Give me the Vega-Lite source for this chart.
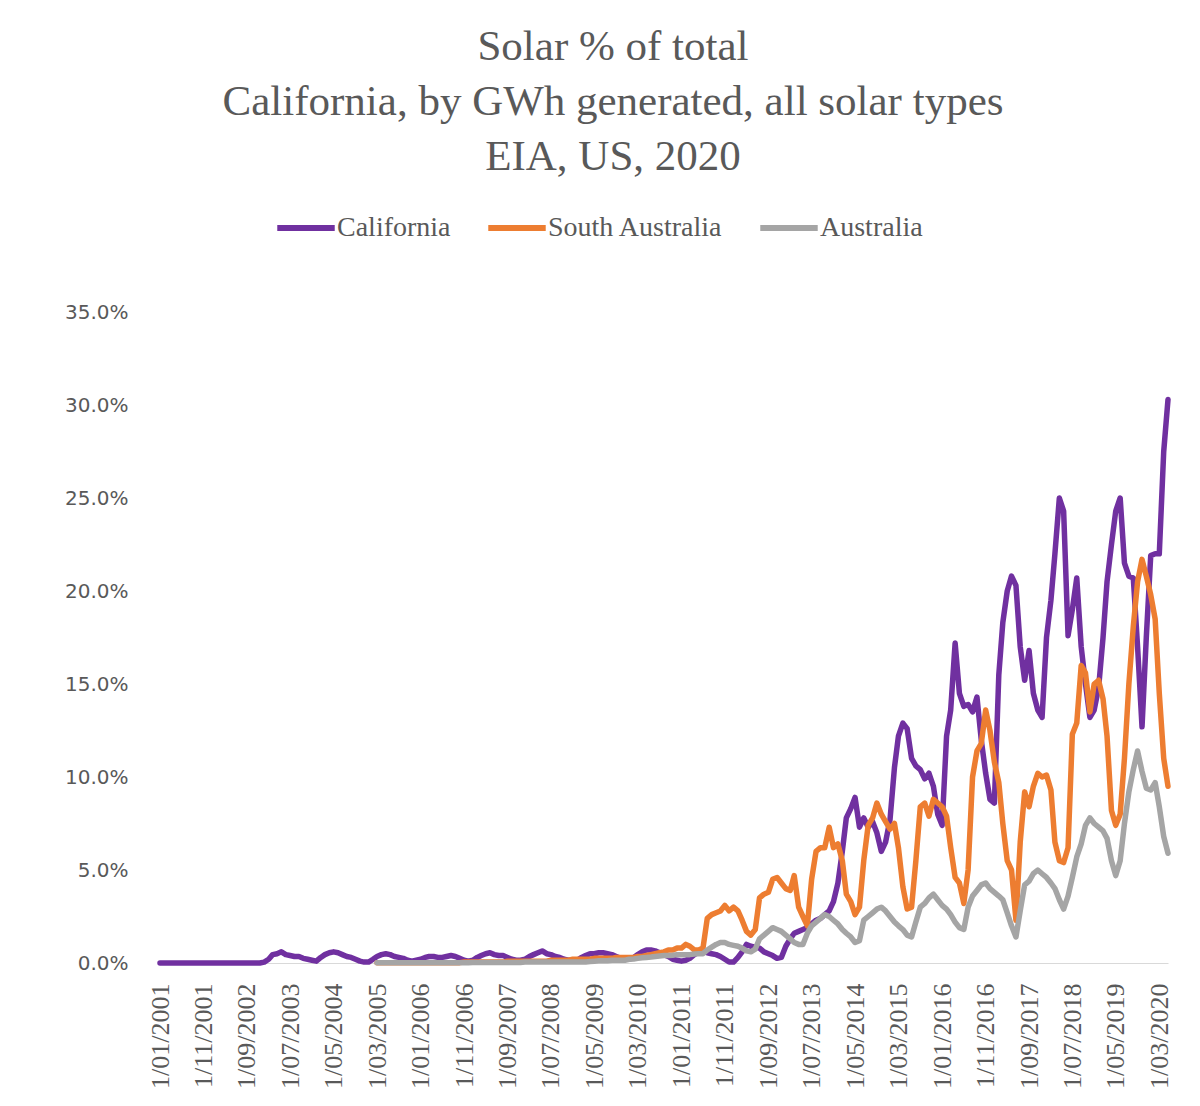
{
"$schema": "https://vega.github.io/schema/vega-lite/v6.json",
"autosize": {"type": "none"},
"width": 1008,
"height": 651,
"padding": {"left": 160, "top": 312, "right": 32, "bottom": 143},
"background": "white",
"title": {"text": ["Solar % of total", "California, by GWh generated, all solar types", "EIA, US, 2020"], "font": "Liberation Serif", "fontSize": 43, "fontWeight": "normal", "color": "#595959", "lineHeight": 55, "anchor": "middle", "dx": -51, "offset": 17},
"data": {"values": [
{"d":"2001-01-01","California":0},{"d":"2001-02-01","California":0},{"d":"2001-03-01","California":0},{"d":"2001-04-01","California":0},{"d":"2001-05-01","California":0},{"d":"2001-06-01","California":0},{"d":"2001-07-01","California":0},{"d":"2001-08-01","California":0},{"d":"2001-09-01","California":0},{"d":"2001-10-01","California":0},{"d":"2001-11-01","California":0},{"d":"2001-12-01","California":0},
{"d":"2002-01-01","California":0},{"d":"2002-02-01","California":0},{"d":"2002-03-01","California":0},{"d":"2002-04-01","California":0},{"d":"2002-05-01","California":0},{"d":"2002-06-01","California":0},{"d":"2002-07-01","California":0},{"d":"2002-08-01","California":0},{"d":"2002-09-01","California":0},{"d":"2002-10-01","California":0},{"d":"2002-11-01","California":0},{"d":"2002-12-01","California":0},
{"d":"2003-01-01","California":0.05},{"d":"2003-02-01","California":0.2},{"d":"2003-03-01","California":0.45},{"d":"2003-04-01","California":0.5},{"d":"2003-05-01","California":0.6},{"d":"2003-06-01","California":0.45},{"d":"2003-07-01","California":0.4},{"d":"2003-08-01","California":0.35},{"d":"2003-09-01","California":0.35},{"d":"2003-10-01","California":0.25},{"d":"2003-11-01","California":0.2},{"d":"2003-12-01","California":0.15},
{"d":"2004-01-01","California":0.1},{"d":"2004-02-01","California":0.3},{"d":"2004-03-01","California":0.45},{"d":"2004-04-01","California":0.55},{"d":"2004-05-01","California":0.6},{"d":"2004-06-01","California":0.55},{"d":"2004-07-01","California":0.45},{"d":"2004-08-01","California":0.35},{"d":"2004-09-01","California":0.3},{"d":"2004-10-01","California":0.2},{"d":"2004-11-01","California":0.1},{"d":"2004-12-01","California":0.05},
{"d":"2005-01-01","California":0.05},{"d":"2005-02-01","California":0.2},{"d":"2005-03-01","California":0.35,"South Australia":0.02,"Australia":0.02},{"d":"2005-04-01","California":0.45,"South Australia":0.02,"Australia":0.02},{"d":"2005-05-01","California":0.5,"South Australia":0.02,"Australia":0.02},{"d":"2005-06-01","California":0.45,"South Australia":0.02,"Australia":0.02},{"d":"2005-07-01","California":0.35,"South Australia":0.02,"Australia":0.02},{"d":"2005-08-01","California":0.3,"South Australia":0.02,"Australia":0.02},{"d":"2005-09-01","California":0.25,"South Australia":0.02,"Australia":0.02},{"d":"2005-10-01","California":0.15,"South Australia":0.02,"Australia":0.02},{"d":"2005-11-01","California":0.1,"South Australia":0.02,"Australia":0.02},{"d":"2005-12-01","California":0.15,"South Australia":0.02,"Australia":0.02},
{"d":"2006-01-01","California":0.2,"South Australia":0.02,"Australia":0.02},{"d":"2006-02-01","California":0.3,"South Australia":0.02,"Australia":0.02},{"d":"2006-03-01","California":0.35,"South Australia":0.02,"Australia":0.02},{"d":"2006-04-01","California":0.35,"South Australia":0.02,"Australia":0.02},{"d":"2006-05-01","California":0.3,"South Australia":0.02,"Australia":0.02},{"d":"2006-06-01","California":0.3,"South Australia":0.02,"Australia":0.02},{"d":"2006-07-01","California":0.35,"South Australia":0.02,"Australia":0.02},{"d":"2006-08-01","California":0.4,"South Australia":0.02,"Australia":0.02},{"d":"2006-09-01","California":0.35,"South Australia":0.02,"Australia":0.02},{"d":"2006-10-01","California":0.25,"South Australia":0.02,"Australia":0.02},{"d":"2006-11-01","California":0.15,"South Australia":0.05,"Australia":0.02},{"d":"2006-12-01","California":0.1,"South Australia":0.05,"Australia":0.02},
{"d":"2007-01-01","California":0.15,"South Australia":0.05,"Australia":0.03},{"d":"2007-02-01","California":0.3,"South Australia":0.05,"Australia":0.03},{"d":"2007-03-01","California":0.4,"South Australia":0.05,"Australia":0.03},{"d":"2007-04-01","California":0.5,"South Australia":0.05,"Australia":0.03},{"d":"2007-05-01","California":0.55,"South Australia":0.05,"Australia":0.03},{"d":"2007-06-01","California":0.45,"South Australia":0.05,"Australia":0.03},{"d":"2007-07-01","California":0.4,"South Australia":0.05,"Australia":0.03},{"d":"2007-08-01","California":0.4,"South Australia":0.05,"Australia":0.03},{"d":"2007-09-01","California":0.3,"South Australia":0.1,"Australia":0.03},{"d":"2007-10-01","California":0.2,"South Australia":0.1,"Australia":0.03},{"d":"2007-11-01","California":0.15,"South Australia":0.1,"Australia":0.03},{"d":"2007-12-01","California":0.15,"South Australia":0.1,"Australia":0.03},
{"d":"2008-01-01","California":0.2,"South Australia":0.1,"Australia":0.05},{"d":"2008-02-01","California":0.35,"South Australia":0.1,"Australia":0.05},{"d":"2008-03-01","California":0.45,"South Australia":0.1,"Australia":0.05},{"d":"2008-04-01","California":0.55,"South Australia":0.1,"Australia":0.05},{"d":"2008-05-01","California":0.65,"South Australia":0.1,"Australia":0.05},{"d":"2008-06-01","California":0.5,"South Australia":0.1,"Australia":0.05},{"d":"2008-07-01","California":0.45,"South Australia":0.15,"Australia":0.05},{"d":"2008-08-01","California":0.35,"South Australia":0.15,"Australia":0.05},{"d":"2008-09-01","California":0.3,"South Australia":0.15,"Australia":0.05},{"d":"2008-10-01","California":0.2,"South Australia":0.15,"Australia":0.05},{"d":"2008-11-01","California":0.15,"South Australia":0.15,"Australia":0.05},{"d":"2008-12-01","California":0.15,"South Australia":0.2,"Australia":0.05},
{"d":"2009-01-01","California":0.15,"South Australia":0.2,"Australia":0.05},{"d":"2009-02-01","California":0.3,"South Australia":0.2,"Australia":0.05},{"d":"2009-03-01","California":0.4,"South Australia":0.2,"Australia":0.05},{"d":"2009-04-01","California":0.5,"South Australia":0.2,"Australia":0.08},{"d":"2009-05-01","California":0.5,"South Australia":0.25,"Australia":0.1},{"d":"2009-06-01","California":0.55,"South Australia":0.25,"Australia":0.12},{"d":"2009-07-01","California":0.55,"South Australia":0.25,"Australia":0.12},{"d":"2009-08-01","California":0.5,"South Australia":0.25,"Australia":0.12},{"d":"2009-09-01","California":0.45,"South Australia":0.25,"Australia":0.15},{"d":"2009-10-01","California":0.35,"South Australia":0.3,"Australia":0.15},{"d":"2009-11-01","California":0.25,"South Australia":0.3,"Australia":0.15},{"d":"2009-12-01","California":0.2,"South Australia":0.3,"Australia":0.15},
{"d":"2010-01-01","California":0.2,"South Australia":0.3,"Australia":0.2},{"d":"2010-02-01","California":0.3,"South Australia":0.3,"Australia":0.22},{"d":"2010-03-01","California":0.45,"South Australia":0.35,"Australia":0.25},{"d":"2010-04-01","California":0.6,"South Australia":0.35,"Australia":0.28},{"d":"2010-05-01","California":0.7,"South Australia":0.4,"Australia":0.3},{"d":"2010-06-01","California":0.7,"South Australia":0.45,"Australia":0.32},{"d":"2010-07-01","California":0.65,"South Australia":0.5,"Australia":0.35},{"d":"2010-08-01","California":0.55,"South Australia":0.55,"Australia":0.38},{"d":"2010-09-01","California":0.45,"South Australia":0.6,"Australia":0.4},{"d":"2010-10-01","California":0.35,"South Australia":0.7,"Australia":0.4},{"d":"2010-11-01","California":0.2,"South Australia":0.7,"Australia":0.42},{"d":"2010-12-01","California":0.15,"South Australia":0.8,"Australia":0.45},
{"d":"2011-01-01","California":0.1,"South Australia":0.8,"Australia":0.45},{"d":"2011-02-01","California":0.15,"South Australia":1.0,"Australia":0.45},{"d":"2011-03-01","California":0.25,"South Australia":0.9,"Australia":0.45},{"d":"2011-04-01","California":0.45,"South Australia":0.7,"Australia":0.48},{"d":"2011-05-01","California":0.6,"South Australia":0.7,"Australia":0.5},{"d":"2011-06-01","California":0.65,"South Australia":0.8,"Australia":0.5},{"d":"2011-07-01","California":0.55,"South Australia":2.4,"Australia":0.7},{"d":"2011-08-01","California":0.5,"South Australia":2.6,"Australia":0.85},{"d":"2011-09-01","California":0.45,"South Australia":2.7,"Australia":1.0},{"d":"2011-10-01","California":0.35,"South Australia":2.8,"Australia":1.1},{"d":"2011-11-01","California":0.2,"South Australia":3.1,"Australia":1.1},{"d":"2011-12-01","California":0.05,"South Australia":2.8,"Australia":1.0},
{"d":"2012-01-01","California":0.05,"South Australia":3.0,"Australia":0.95},{"d":"2012-02-01","California":0.3,"South Australia":2.8,"Australia":0.9},{"d":"2012-03-01","California":0.6,"South Australia":2.3,"Australia":0.8},{"d":"2012-04-01","California":1.0,"South Australia":1.7,"Australia":0.65},{"d":"2012-05-01","California":0.9,"South Australia":1.5,"Australia":0.6},{"d":"2012-06-01","California":0.85,"South Australia":1.8,"Australia":0.75},{"d":"2012-07-01","California":0.8,"South Australia":3.5,"Australia":1.3},{"d":"2012-08-01","California":0.6,"South Australia":3.7,"Australia":1.5},{"d":"2012-09-01","California":0.5,"South Australia":3.8,"Australia":1.7},{"d":"2012-10-01","California":0.4,"South Australia":4.5,"Australia":1.9},{"d":"2012-11-01","California":0.25,"South Australia":4.6,"Australia":1.8},{"d":"2012-12-01","California":0.3,"South Australia":4.3,"Australia":1.7},
{"d":"2013-01-01","California":0.9,"South Australia":4.0,"Australia":1.5},{"d":"2013-02-01","California":1.3,"South Australia":3.9,"Australia":1.3},{"d":"2013-03-01","California":1.6,"South Australia":4.7,"Australia":1.1},{"d":"2013-04-01","California":1.7,"South Australia":3.0,"Australia":1.0},{"d":"2013-05-01","California":1.8,"South Australia":2.5,"Australia":1.0},{"d":"2013-06-01","California":1.9,"South Australia":2.0,"Australia":1.6},{"d":"2013-07-01","California":2.1,"South Australia":4.5,"Australia":2.0},{"d":"2013-08-01","California":2.3,"South Australia":6.0,"Australia":2.2},{"d":"2013-09-01","California":2.4,"South Australia":6.2,"Australia":2.4},{"d":"2013-10-01","California":2.6,"South Australia":6.2,"Australia":2.6},{"d":"2013-11-01","California":2.8,"South Australia":7.3,"Australia":2.5},{"d":"2013-12-01","California":3.3,"South Australia":6.2,"Australia":2.3},
{"d":"2014-01-01","California":4.3,"South Australia":6.4,"Australia":2.1},{"d":"2014-02-01","California":6.0,"South Australia":5.5,"Australia":1.8},{"d":"2014-03-01","California":7.8,"South Australia":3.7,"Australia":1.6},{"d":"2014-04-01","California":8.3,"South Australia":3.3,"Australia":1.4},{"d":"2014-05-01","California":8.9,"South Australia":2.6,"Australia":1.1},{"d":"2014-06-01","California":7.3,"South Australia":3.0,"Australia":1.2},{"d":"2014-07-01","California":7.8,"South Australia":5.5,"Australia":2.3},{"d":"2014-08-01","California":7.3,"South Australia":7.4,"Australia":2.5},{"d":"2014-09-01","California":7.6,"South Australia":7.8,"Australia":2.7},{"d":"2014-10-01","California":7.0,"South Australia":8.6,"Australia":2.9},{"d":"2014-11-01","California":6.0,"South Australia":8.0,"Australia":3.0},{"d":"2014-12-01","California":6.5,"South Australia":7.6,"Australia":2.8},
{"d":"2015-01-01","California":7.7,"South Australia":7.2,"Australia":2.5},{"d":"2015-02-01","California":10.5,"South Australia":7.5,"Australia":2.2},{"d":"2015-03-01","California":12.2,"South Australia":6.2,"Australia":2.0},{"d":"2015-04-01","California":12.9,"South Australia":4.1,"Australia":1.8},{"d":"2015-05-01","California":12.6,"South Australia":2.9,"Australia":1.5},{"d":"2015-06-01","California":11.0,"South Australia":3.0,"Australia":1.4},{"d":"2015-07-01","California":10.6,"South Australia":5.5,"Australia":2.2},{"d":"2015-08-01","California":10.4,"South Australia":8.4,"Australia":3.0},{"d":"2015-09-01","California":9.9,"South Australia":8.6,"Australia":3.2},{"d":"2015-10-01","California":10.2,"South Australia":7.9,"Australia":3.5},{"d":"2015-11-01","California":9.5,"South Australia":8.8,"Australia":3.7},{"d":"2015-12-01","California":8.0,"South Australia":8.6,"Australia":3.4},
{"d":"2016-01-01","California":7.4,"South Australia":8.4,"Australia":3.1},{"d":"2016-02-01","California":12.2,"South Australia":7.9,"Australia":2.9},{"d":"2016-03-01","California":13.6,"South Australia":6.2,"Australia":2.6},{"d":"2016-04-01","California":17.2,"South Australia":4.6,"Australia":2.2},{"d":"2016-05-01","California":14.5,"South Australia":4.3,"Australia":1.9},{"d":"2016-06-01","California":13.8,"South Australia":3.2,"Australia":1.8},{"d":"2016-07-01","California":13.9,"South Australia":5.0,"Australia":3.0},{"d":"2016-08-01","California":13.5,"South Australia":10.0,"Australia":3.6},{"d":"2016-09-01","California":14.3,"South Australia":11.4,"Australia":3.9},{"d":"2016-10-01","California":12.0,"South Australia":11.8,"Australia":4.2},{"d":"2016-11-01","California":10.2,"South Australia":13.6,"Australia":4.3},{"d":"2016-12-01","California":8.8,"South Australia":12.5,"Australia":4.0},
{"d":"2017-01-01","California":8.6,"South Australia":10.8,"Australia":3.8},{"d":"2017-02-01","California":15.5,"South Australia":9.7,"Australia":3.6},{"d":"2017-03-01","California":18.3,"South Australia":7.5,"Australia":3.4},{"d":"2017-04-01","California":20.0,"South Australia":5.5,"Australia":2.7},{"d":"2017-05-01","California":20.8,"South Australia":5.0,"Australia":2.0},{"d":"2017-06-01","California":20.3,"South Australia":2.3,"Australia":1.4},{"d":"2017-07-01","California":17.0,"South Australia":6.5,"Australia":2.8},{"d":"2017-08-01","California":15.2,"South Australia":9.2,"Australia":4.2},{"d":"2017-09-01","California":16.8,"South Australia":8.4,"Australia":4.4},{"d":"2017-10-01","California":14.5,"South Australia":9.5,"Australia":4.8},{"d":"2017-11-01","California":13.6,"South Australia":10.2,"Australia":5.0},{"d":"2017-12-01","California":13.2,"South Australia":10.0,"Australia":4.8},
{"d":"2018-01-01","California":17.5,"South Australia":10.1,"Australia":4.6},{"d":"2018-02-01","California":19.5,"South Australia":9.3,"Australia":4.3},{"d":"2018-03-01","California":22.0,"South Australia":6.5,"Australia":4.0},{"d":"2018-04-01","California":25.0,"South Australia":5.5,"Australia":3.4},{"d":"2018-05-01","California":24.3,"South Australia":5.4,"Australia":2.9},{"d":"2018-06-01","California":17.6,"South Australia":6.2,"Australia":3.6},{"d":"2018-07-01","California":19.0,"South Australia":12.3,"Australia":4.6},{"d":"2018-08-01","California":20.7,"South Australia":12.9,"Australia":5.7},{"d":"2018-09-01","California":17.0,"South Australia":16.0,"Australia":6.4},{"d":"2018-10-01","California":15.0,"South Australia":15.6,"Australia":7.4},{"d":"2018-11-01","California":13.2,"South Australia":13.5,"Australia":7.8},{"d":"2018-12-01","California":13.6,"South Australia":15.0,"Australia":7.5},
{"d":"2019-01-01","California":14.8,"South Australia":15.2,"Australia":7.3},{"d":"2019-02-01","California":17.5,"South Australia":14.2,"Australia":7.1},{"d":"2019-03-01","California":20.5,"South Australia":12.2,"Australia":6.7},{"d":"2019-04-01","California":22.5,"South Australia":8.2,"Australia":5.5},{"d":"2019-05-01","California":24.3,"South Australia":7.4,"Australia":4.7},{"d":"2019-06-01","California":25.0,"South Australia":8.0,"Australia":5.5},{"d":"2019-07-01","California":21.5,"South Australia":11.0,"Australia":7.5},{"d":"2019-08-01","California":20.8,"South Australia":15.0,"Australia":9.2},{"d":"2019-09-01","California":20.7,"South Australia":18.1,"Australia":10.4},{"d":"2019-10-01","California":17.0,"South Australia":20.5,"Australia":11.4},{"d":"2019-11-01","California":12.7,"South Australia":21.7,"Australia":10.3},{"d":"2019-12-01","California":17.5,"South Australia":20.8,"Australia":9.4},
{"d":"2020-01-01","California":21.9,"South Australia":19.8,"Australia":9.3},{"d":"2020-02-01","California":22.0,"South Australia":18.5,"Australia":9.7},{"d":"2020-03-01","California":22.0,"South Australia":14.5,"Australia":8.4},{"d":"2020-04-01","California":27.5,"South Australia":11.0,"Australia":6.8},{"d":"2020-05-01","California":30.3,"South Australia":9.5,"Australia":5.9}
]},
"transform": [
  {"fold": ["California", "South Australia", "Australia"], "as": ["series", "value"]},
  {"filter": "isValid(datum.value)"}
],
"mark": {"type": "line", "strokeWidth": 5.5, "strokeJoin": "round", "strokeCap": "round"},
"encoding": {
  "x": {"field": "d", "type": "temporal",
    "scale": {"type": "utc", "domain": [{"year": 2001, "month": 1, "date": 1, "utc": true}, {"year": 2020, "month": 5, "date": 1, "utc": true}]},
    "axis": {"title": null, "grid": false, "tickSize": 0, "labelPadding": 20, "labelAngle": 270,
      "labelExpr": "utcFormat(datum.value, '%-d/%m/%Y')",
      "labelFont": "Liberation Serif", "labelFontSize": 26, "labelColor": "#595959", "labelOverlap": false, "labelFlush": false, "labelBound": false,
      "domainColor": "#d9d9d9", "domainWidth": 1,
      "values": [
        {"year": 2001, "month": 1, "date": 1, "utc": true}, {"year": 2001, "month": 11, "date": 1, "utc": true},
        {"year": 2002, "month": 9, "date": 1, "utc": true}, {"year": 2003, "month": 7, "date": 1, "utc": true},
        {"year": 2004, "month": 5, "date": 1, "utc": true}, {"year": 2005, "month": 3, "date": 1, "utc": true},
        {"year": 2006, "month": 1, "date": 1, "utc": true}, {"year": 2006, "month": 11, "date": 1, "utc": true},
        {"year": 2007, "month": 9, "date": 1, "utc": true}, {"year": 2008, "month": 7, "date": 1, "utc": true},
        {"year": 2009, "month": 5, "date": 1, "utc": true}, {"year": 2010, "month": 3, "date": 1, "utc": true},
        {"year": 2011, "month": 1, "date": 1, "utc": true}, {"year": 2011, "month": 11, "date": 1, "utc": true},
        {"year": 2012, "month": 9, "date": 1, "utc": true}, {"year": 2013, "month": 7, "date": 1, "utc": true},
        {"year": 2014, "month": 5, "date": 1, "utc": true}, {"year": 2015, "month": 3, "date": 1, "utc": true},
        {"year": 2016, "month": 1, "date": 1, "utc": true}, {"year": 2016, "month": 11, "date": 1, "utc": true},
        {"year": 2017, "month": 9, "date": 1, "utc": true}, {"year": 2018, "month": 7, "date": 1, "utc": true},
        {"year": 2019, "month": 5, "date": 1, "utc": true}, {"year": 2020, "month": 3, "date": 1, "utc": true}
      ]}},
  "y": {"field": "value", "type": "quantitative",
    "scale": {"domain": [0, 35], "nice": false},
    "axis": {"title": null, "grid": false, "domain": false, "tickSize": 0, "labelPadding": 32,
      "values": [0, 5, 10, 15, 20, 25, 30, 35],
      "labelExpr": "format(datum.value, '.1f') + '%'",
      "labelFont": "DejaVu Sans", "labelFontSize": 20, "labelColor": "#595959"}},
  "color": {"field": "series", "type": "nominal",
    "scale": {"domain": ["California", "South Australia", "Australia"], "range": ["#7030A0", "#ED7D31", "#A5A5A5"]},
    "legend": {"title": null, "orient": "none", "direction": "horizontal", "legendX": 114, "legendY": -116,
      "symbolType": "stroke", "symbolStrokeWidth": 6, "symbolSize": 3300,
      "labelFont": "Liberation Serif", "labelFontSize": 28, "labelColor": "#595959", "labelLimit": 300,
      "labelOffset": -1, "columnPadding": 25, "padding": 0}}
},
"config": {"view": {"stroke": null}}
}
